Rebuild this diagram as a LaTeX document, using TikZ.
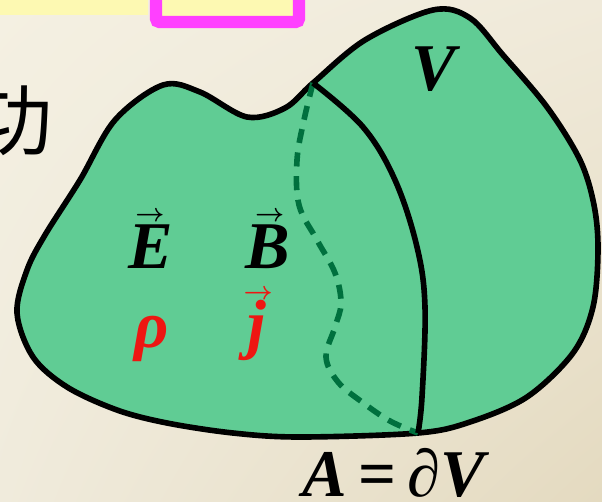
\documentclass[tikz,border=0pt]{standalone}
\usepackage{amsmath,fontspec}
\setmainfont{Liberation Serif}
\newfontfamily\cjk{Noto Sans CJK SC}
\usetikzlibrary{arrows.meta,calc,positioning,shadings}
\definecolor{bgtl}{RGB}{244,240,226}
\definecolor{bgtr}{RGB}{240,234,218}
\definecolor{bgbl}{RGB}{240,235,220}
\definecolor{bgbr}{RGB}{228,218,192}
\definecolor{volgreen}{RGB}{96,204,148}
\definecolor{dashgreen}{RGB}{0,112,62}
\definecolor{boxyellow}{RGB}{253,249,178}
\definecolor{boxpink}{RGB}{255,64,255}
\definecolor{qred}{RGB}{238,22,18}
\newcommand{\bfit}[1]{\textbf{\textit{#1}}}
% bold letter with a small arrow over it
\newcommand{\vecsym}[2][0.1em]{\leavevmode\rlap{\hspace{#1}\raisebox{0.69em}{\fontsize{15}{15}\selectfont$\boldsymbol{\rightarrow}$}}\bfit{#2}}
\tikzset {
  >=Stealth,
  every node/.style={font=\fontsize{38}{40}\selectfont, inner sep=0pt, anchor=base},
  outline/.style={line width=3.2pt},
}

\begin{document}
\begin{tikzpicture}[x=0.02cm,y=-0.02cm]
  \shade[upper left=bgtl,upper right=bgtr,lower left=bgbl,lower right=bgbr]
    (0,0) rectangle (602,501);
  \clip (0,0) rectangle (602,501);
  % boxes cut by the top edge
  \fill[boxyellow] (-10,-20) rectangle (148,15);
  \draw[boxpink,line width=7pt,fill=boxyellow,rounded corners=2pt] (156,-30) rectangle (299,22);
  \node[font=\cjk\fontsize{44}{44}\selectfont,anchor=center] (gong) at (14,121) {功};
  % the volume
  \coordinate (top) at (313,83);
  \coordinate (bot) at (418,433);
  \draw[outline,fill=volgreen] plot[smooth cycle,tension=0.55] coordinates {
    (313,83) (365,40) (433,10) (470,18) (503,55) (547,107) (580,160)
    (594,205) (598,250) (593,307) (573,353) (527,397) (470,422) (418,433)
    (300,437) (233,433) (167,423) (117,410) (67,387) (33,357) (17,313)
    (27,270) (45,235) (80,180) (115,120) (163,85) (200,92) (247,117) (285,108)};
  \draw[dashgreen,line width=3.2pt,dash pattern=on 8pt off 5.5pt] plot[smooth,tension=0.6] coordinates {
    (top) (304,120) (297,160) (299,205) (317,240) (335,273) (341,303)
    (335,327) (326,357) (338,382) (362,402) (390,421) (bot)};
  \draw[outline] plot[smooth,tension=0.6] coordinates {
    (top) (363,127) (395,180) (417,247) (425,307) (422,397) (bot)};
  % labels
  \node (V) at (436,90) {\bfit{V}};
  \node (E) at (151,268) {\vecsym{E}};
  \node (B) at (268,268) {\vecsym[0.14em]{B}};
  \node[text=qred] (rho) at (152,347) {\bfit{ρ}};
  \node[text=qred] (j) at (257,346) {\vecsym[-0.06em]{j}};
  \node (bnd) at (396,496) {\bfit{A}\,\textbf{=}\,∂\bfit{V}};
\end{tikzpicture}
\end{document}
